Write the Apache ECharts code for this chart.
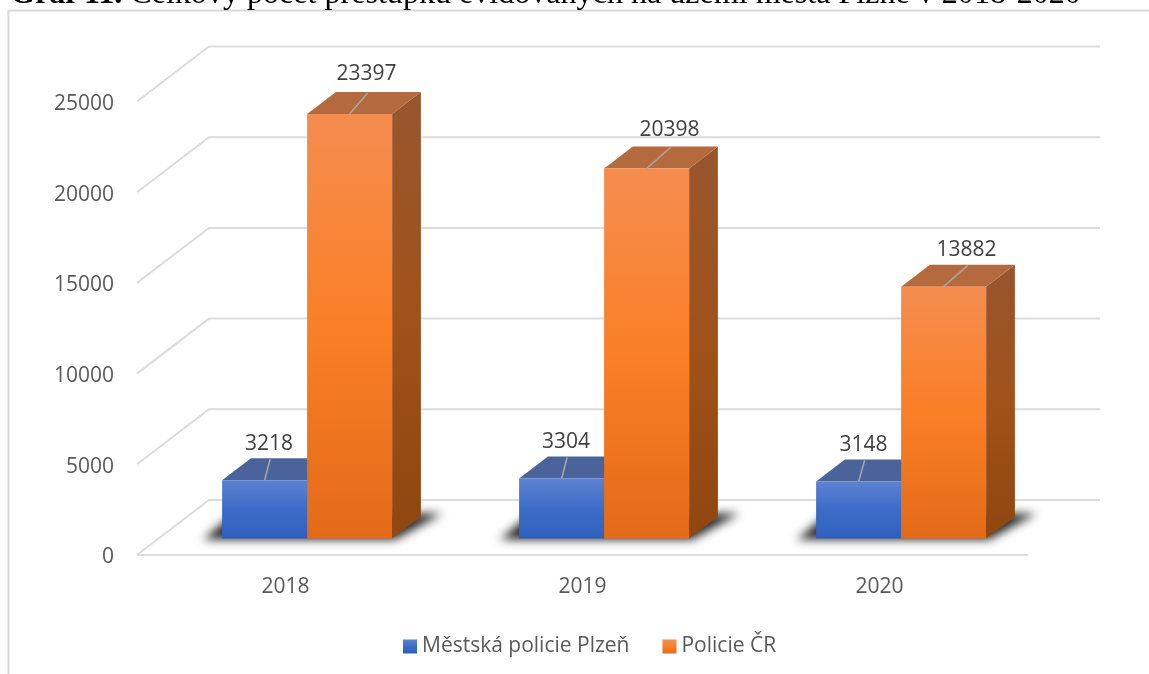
<!DOCTYPE html>
<html>
<head>
<meta charset="utf-8">
<title>Graf 11</title>
<script src="https://cdn.jsdelivr.net/npm/echarts@6/dist/echarts.min.js"></script>
<style>
    html, body { margin: 0; padding: 0; background: #fff; overflow: hidden; }
    #chart { width: 1149px; height: 674px; }
</style>
</head>
<body>
<div id="chart"></div>
<script>
var categories = ['2018', '2019', '2020'];
var mestskaPolicie = [3218, 3304, 3148];
var policieCR = [23397, 20398, 13882];
var valueTicks = [0, 5000, 10000, 15000, 20000, 25000];

var axisFont = 'Open Sans';
var skew = 72 / 55;       // sideways shift per pixel of depth
var wallDepth = 55;       // floor depth
var barInset = 16.5;      // gap between the floor edge and the bar
var barDepth = 22;

// leader line end, relative to the middle of the bar top
var blueLeader = [5.5, 5.5, 6];
var orangeLeader = [18, 24, 24];

function vGrad(stops) {
    return new echarts.graphic.LinearGradient(0, 0, 0, 1, stops);
}

var blueFront = vGrad([
    { offset: 0, color: '#5d82d1' },
    { offset: 0.5, color: '#3c6cc8' },
    { offset: 1, color: '#2f60bd' }
]);
var orangeFront = vGrad([
    { offset: 0, color: '#f58d50' },
    { offset: 0.5, color: '#fa7f26' },
    { offset: 1, color: '#e36a18' }
]);
var orangeSide = vGrad([
    { offset: 0, color: '#98562e' },
    { offset: 0.5, color: '#a0521a' },
    { offset: 1, color: '#8f460f' }
]);

// one 3D column; slot -1 is the left bar of the pair, slot 0 the right one
function barItem(slot, top, side, front, leader) {
    return function (params, api) {
        var i = api.value(0);
        var band = api.size([1, 0])[0];
        var w = band * 0.2862;
        var dx = barDepth * skew;
        var floor = api.coord([i, 0]);
        var peak = api.coord([i, api.value(1)]);
        var x0 = floor[0] + barInset * skew + slot * w;
        var x1 = x0 + w;
        var y0 = floor[1] - barInset;
        var y1 = peak[1] - barInset;
        var mid = (x0 + x1) / 2;
        var tipX = mid + leader[i];
        var tipY = y1 - barDepth + 1;
        var labelY = y1 - (i === 0 && slot === 0 ? 40.5 : (i === 1 && slot === 0 ? 38.5 : 36.5));
        return {
            type: 'group',
            children: [
                {
                    type: 'polygon',
                    shape: { points: [[x1, y0], [x1 + dx, y0 - barDepth], [x1 + dx, y1 - barDepth], [x1, y1]] },
                    style: { fill: side }
                },
                {
                    type: 'polygon',
                    shape: { points: [[x0, y1], [x0 + dx, y1 - barDepth], [x1 + dx, y1 - barDepth], [x1, y1]] },
                    style: { fill: top }
                },
                {
                    type: 'rect',
                    shape: { x: x0, y: y1, width: w, height: y0 - y1 },
                    style: { fill: front }
                },
                {
                    type: 'line',
                    shape: { x1: mid, y1: y1, x2: tipX, y2: tipY },
                    style: { stroke: '#a6a6a6', lineWidth: 1.6 }
                },
                {
                    type: 'text',
                    x: tipX - 1,
                    y: labelY,
                    style: {
                        text: String(api.value(1)),
                        fill: '#404040',
                        font: '21px "' + axisFont + '"',
                        align: 'center',
                        verticalAlign: 'middle'
                    }
                }
            ]
        };
    };
}

function wallItem(params, api) {
    var rect = params.coordSys;
    var p = api.coord([0, api.value(0)]);
    var dx = wallDepth * skew;
    var children = [{
        type: 'polyline',
        shape: { points: [[rect.x, p[1]], [rect.x + dx, p[1] - wallDepth], [rect.x + rect.width + dx, p[1] - wallDepth]] },
        style: { stroke: '#dcdcdc', lineWidth: 2, fill: 'none' }
    }];
    if (api.value(0) === 0) {
        children.push({
            type: 'line',
            shape: { x1: rect.x, y1: p[1], x2: rect.x + rect.width, y2: p[1] },
            style: { stroke: '#dcdcdc', lineWidth: 2 }
        });
    }
    return { type: 'group', children: children };
}

// soft shadow on the floor below each pair of columns: the shape sits off the
// canvas and only its blurred shadow lands on the floor
function shadowItem(params, api) {
    var band = api.size([1, 0])[0];
    var w = band * 0.2862;
    var floor = api.coord([api.value(0), 0]);
    var x0 = floor[0] + barInset * skew - w;
    var x1 = x0 + 2 * w;
    var y0 = floor[1] - barInset;
    var away = 3000;
    return {
        type: 'polygon',
        shape: {
            points: [
                [x0 - 19 - away, y0 + 1], [x1 + 3 - away, y0 + 1],
                [x1 + 50 - away, y0 - 25], [x0 + 12 - away, y0 - 25]
            ]
        },
        style: {
            fill: '#000',
            shadowBlur: 10,
            shadowOffsetX: away,
            shadowColor: 'rgba(30,30,30,0.95)'
        }
    };
}

var chart = echarts.init(document.getElementById('chart'), null, { renderer: 'canvas' });

var option = {
    animation: false,
    backgroundColor: '#fff',
    title: {
        left: 10,
        top: -21,
        padding: 0,
        text: '{b|Graf 11.} Celkový počet přestupků evidovaných na území města Plzně v 2018-2020',
        textStyle: {
            fontFamily: 'Liberation Serif',
            fontSize: 32.1,
            fontWeight: 'normal',
            color: '#000',
            rich: {
                b: { fontFamily: 'Liberation Serif', fontSize: 32.1, fontWeight: 'bold', color: '#000' }
            }
        }
    },
    legend: {
        left: 403,
        top: 636,
        padding: 0,
        itemWidth: 14,
        itemHeight: 14,
        itemGap: 33,
        icon: 'rect',
        data: ['Městská policie Plzeň', 'Policie ČR'],
        textStyle: { fontFamily: axisFont, fontSize: 21, color: '#595959' }
    },
    grid: { left: 137, right: 121, top: 101.5, bottom: 119 },
    xAxis: {
        type: 'category',
        data: categories,
        axisLine: { show: false },
        axisTick: { show: false },
        axisLabel: { fontFamily: axisFont, fontSize: 21, color: '#595959', margin: 22 }
    },
    yAxis: {
        type: 'value',
        min: 0,
        max: 25000,
        interval: 5000,
        axisLine: { show: false },
        axisTick: { show: false },
        splitLine: { show: false },
        axisLabel: {
            fontFamily: axisFont,
            fontSize: 21,
            color: '#595959',
            margin: 23,
            verticalAlign: 'top',
            lineHeight: 5,
            formatter: function (v) { return String(v); }
        }
    },
    graphic: [{
        type: 'polyline',
        silent: true,
        shape: { points: [[8.5, 674], [8.5, 10.5], [1149, 10.5]] },
        style: { stroke: '#d9d9d9', lineWidth: 2, fill: 'none' }
    }],
    series: [
        {
            type: 'custom',
            silent: true,
            coordinateSystem: 'cartesian2d',
            renderItem: wallItem,
            encode: { y: 0 },
            data: valueTicks.map(function (v) { return [v]; })
        },
        {
            type: 'custom',
            silent: true,
            coordinateSystem: 'cartesian2d',
            renderItem: shadowItem,
            encode: { x: 0 },
            data: categories.map(function (c, i) { return [i]; })
        },
        {
            name: 'Městská policie Plzeň',
            type: 'custom',
            coordinateSystem: 'cartesian2d',
            renderItem: barItem(-1, '#4a639b', '#3a5a9a', blueFront, blueLeader),
            itemStyle: { color: blueFront },
            encode: { x: 0, y: 1 },
            data: mestskaPolicie.map(function (v, i) { return [i, v]; })
        },
        {
            name: 'Policie ČR',
            type: 'custom',
            coordinateSystem: 'cartesian2d',
            renderItem: barItem(0, '#b56a3e', orangeSide, orangeFront, orangeLeader),
            itemStyle: { color: orangeFront },
            encode: { x: 0, y: 1 },
            data: policieCR.map(function (v, i) { return [i, v]; })
        }
    ]
};

chart.setOption(option);
</script>
</body>
</html>
